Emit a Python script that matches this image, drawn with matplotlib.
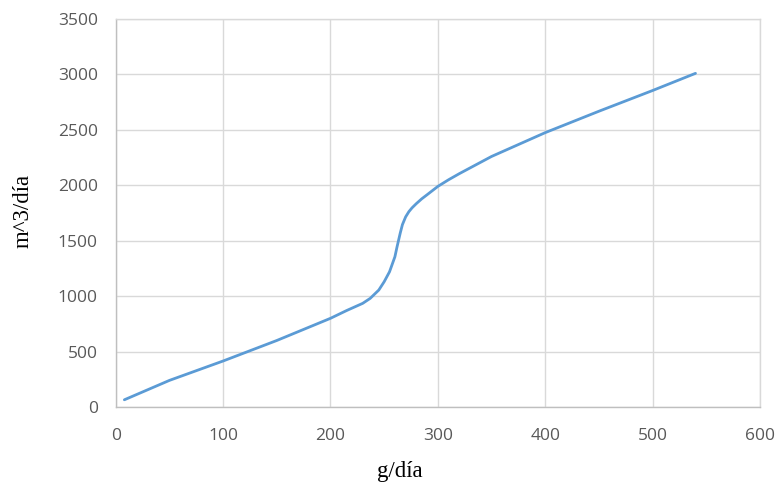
import matplotlib.pyplot as plt

# values
g_dia = [8, 50, 100, 150, 200, 215, 230, 237, 245, 250, 255, 260, 262, 265, 267, 270,
         273, 276, 280, 285, 290, 300, 310, 320, 350, 400, 450, 500, 540]
m3_dia = [65, 240, 415, 600, 800, 870, 935, 980, 1055, 1130, 1220, 1355, 1445, 1570, 1645, 1715,
          1762, 1797, 1835, 1878, 1915, 1990, 2050, 2105, 2260, 2475, 2668, 2855, 3010]

x_ticks = [0, 100, 200, 300, 400, 500, 600]
y_ticks = [0, 500, 1000, 1500, 2000, 2500, 3000, 3500]

fig = plt.figure(figsize=(7.77, 4.88), dpi=100)
ax = fig.add_axes([0.149, 0.166, 0.829, 0.795])

ax.plot(g_dia, m3_dia, color='#5B9BD5', linewidth=2.0,
        solid_capstyle='round', solid_joinstyle='round')

ax.set_xlim(0, 600)
ax.set_ylim(0, 3500)
ax.set_xticks(x_ticks)
ax.set_yticks(y_ticks)
ax.grid(True, color='#d9d9d9', linewidth=1.0)
ax.set_axisbelow(True)

for s in ax.spines.values():
    s.set_color('#d9d9d9')
    s.set_linewidth(1.0)
ax.spines['left'].set_color('#bfbfbf')
ax.spines['bottom'].set_color('#bfbfbf')

ax.tick_params(length=0, labelsize=12.5, labelcolor='#595959')
ax.tick_params(axis='x', pad=15)
ax.tick_params(axis='y', pad=13)
for lab in ax.get_xticklabels() + ax.get_yticklabels():
    lab.set_family('Open Sans')

ax.set_xlabel('g/día', family='Liberation Serif', fontsize=16.5)
ax.set_ylabel('m^3/día', family='Liberation Serif', fontsize=16.5)
ax.xaxis.set_label_coords(0.441, -0.14)
ax.yaxis.set_label_coords(-0.128, 0.505)

fig.savefig('out.png', dpi=100)
